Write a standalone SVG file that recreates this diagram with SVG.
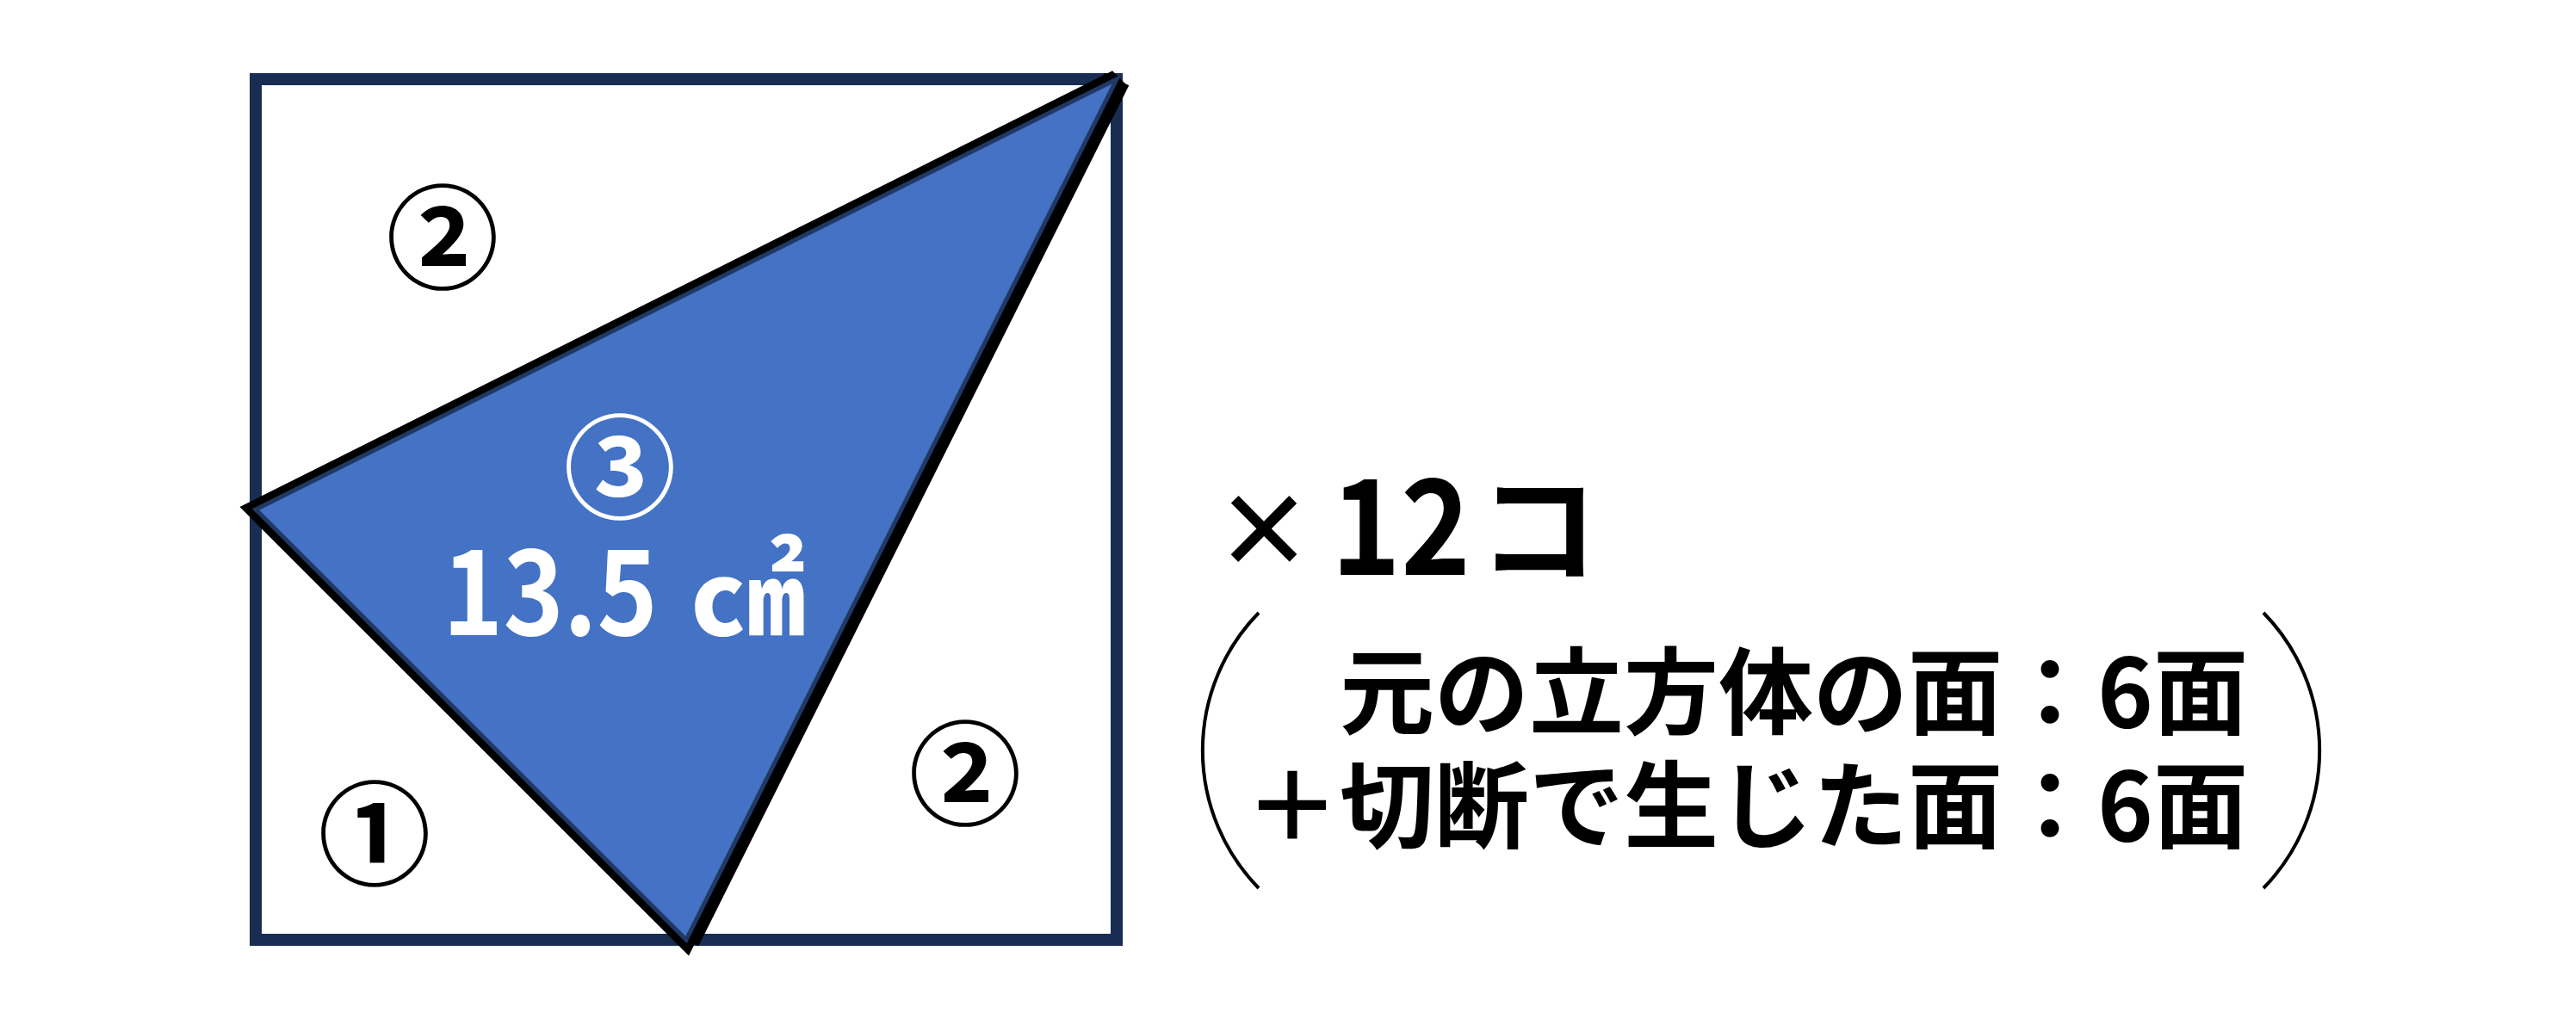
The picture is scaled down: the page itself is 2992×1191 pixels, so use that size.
<svg xmlns="http://www.w3.org/2000/svg" width="2992" height="1191" viewBox="0 0 2992 1191">
<style>
.t{font-family:"Noto Sans CJK JP","Liberation Sans",sans-serif;font-weight:700;}
.blk{fill:#000;}
.wht{fill:#fff;}
.paren{fill:none;stroke:#000;stroke-width:4;}
</style>
<rect width="2992" height="1191" fill="#fff"/>
<g id="square">
<rect x="297" y="92" width="1000" height="1000" fill="#fff" stroke="#192c52" stroke-width="14"/>
</g>
<g id="triangle">
<polygon points="1297,92 297,592 797,1092" fill="none" stroke="#000" stroke-width="22" stroke-linejoin="miter" stroke-miterlimit="2"/>
<line x1="1297" y1="92" x2="797" y2="1092" stroke="#000" stroke-width="32"/>
<polygon points="1297,92 297,592 797,1092" fill="#4472c4" stroke="#203864" stroke-width="5"/>
</g>
<g id="label1">
<text class="t blk" x="435" y="961" font-size="131" text-anchor="middle" dominant-baseline="central">①</text>
</g>
<g id="label2a">
<text class="t blk" x="514" y="268" font-size="131" text-anchor="middle" dominant-baseline="central">②</text>
</g>
<g id="label2b">
<text class="t blk" x="1121" y="891" font-size="131" text-anchor="middle" dominant-baseline="central">②</text>
</g>
<g id="label3">
<text class="t wht"><tspan x="720" y="535" font-size="131" text-anchor="middle" dominant-baseline="central">③</tspan><tspan x="514" y="738" font-size="134" textLength="250" lengthAdjust="spacingAndGlyphs">13.5</tspan><tspan x="801" y="738" font-size="134">㎠</tspan></text>
</g>
<g id="count">
<text x="1468" y="612" font-family="'Liberation Sans',sans-serif" font-size="172" fill="#000" text-anchor="middle" dominant-baseline="central">×</text>
<text class="t blk" x="1546" y="668" font-size="154" textLength="162" lengthAdjust="spacingAndGlyphs">12</text>
<text class="t blk" x="1717" y="666" font-size="140">コ</text>
</g>
<g id="breakdown">
<path class="paren" d="M1462,712 A229,229 0 0 0 1462,1032"/>
<path class="paren" d="M2629,712 A229,229 0 0 1 2629,1032"/>
<text class="t blk" font-size="110"><tspan x="1556" y="845">元の立方体の面：6面</tspan><tspan x="1446" y="977">＋切断で生じた面：6面</tspan></text>
</g>
</svg>
